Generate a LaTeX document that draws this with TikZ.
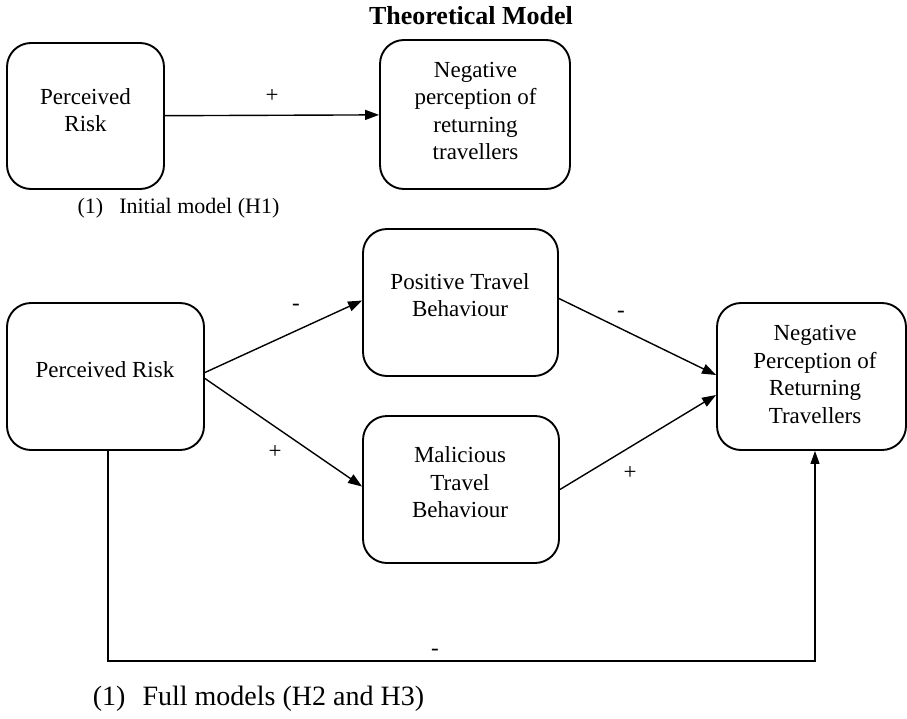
\documentclass[tikz,border=0pt]{standalone}
\usepackage{fontspec}
\setmainfont{Liberation Serif}
\usetikzlibrary{arrows.meta}
\begin{document}
\begin{tikzpicture}[x=1pt,y=-1pt,
  box/.style={draw, line width=1.9pt, rounded corners=24pt, inner sep=0pt},
  boxtext/.style={font=\fontsize{23}{27.5}\selectfont, align=center, inner sep=0pt},
  conn/.style={line width=1.4pt, -{Triangle[length=14pt,width=10pt]}},
  thinconn/.style={line width=1.1pt, -{Triangle[length=13pt,width=9pt]}},
  sign/.style={font=\fontsize{23}{25}\selectfont, inner sep=0pt},
  caption/.style={inner sep=0pt}]
\useasboundingbox (0,0) rectangle (907,718);

% title
\node[caption, font=\fontsize{26}{30}\selectfont\bfseries] (title) at (471,16) {Theoretical Model};

% initial model
\node[box, minimum width=157pt, minimum height=146pt] (A) at (85.5,116) {};
\node[boxtext] (At) at (85.5,110) {Perceived\\Risk};
\node[box, minimum width=190pt, minimum height=149pt] (B) at (475,114.5) {};
\node[boxtext] (Bt) at (475.5,111) {Negative\\perception of\\returning\\travellers};
\draw[conn] (A) -- (B);
\node[sign] (s1) at (272,96) {+};
\node[caption, font=\fontsize{22}{26}\selectfont] (cap1) at (178.5,208) {(1)\hspace{16pt}Initial model (H1)};

% full model
\node[box, minimum width=197pt, minimum height=147pt] (C) at (105.5,376.5) {};
\node[boxtext] (Ct) at (105,369.5) {Perceived Risk};
\node[box, minimum width=195pt, minimum height=147pt] (D) at (460.5,302.5) {};
\node[boxtext] (Dt) at (460,295) {Positive Travel\\Behaviour};
\node[box, minimum width=196pt, minimum height=147pt] (E) at (461,489.5) {};
\node[boxtext] (Et) at (460,482.5) {Malicious\\Travel\\Behaviour};
\node[box, minimum width=189pt, minimum height=147pt] (F) at (811.5,376.5) {};
\node[boxtext] (Ft) at (815,374.5) {Negative\\Perception of\\Returning\\Travellers};

\draw[conn] ([yshift=4pt]C.east) -- ([yshift=2pt]D.west);
\draw[conn] ([yshift=-2pt]C.east) -- ([yshift=3pt]E.west);
\draw[conn] ([yshift=4pt]D.east) -- ([yshift=1.5pt]F.west);
\draw[conn] (E.east) -- ([yshift=-18.5pt]F.west);
\coordinate (low) at (0,661);
\draw[thinconn] ([xshift=2.5pt]C.south) -- ([xshift=2.5pt]C.south |- low) -- ([xshift=3.5pt]F.south |- low) -- ([xshift=3.5pt]F.south);

\node[sign] (s2) at (296,307) {-};
\node[sign] (s3) at (275,452) {+};
\node[sign] (s4) at (621,314) {-};
\node[sign] (s5) at (630,473) {+};
\node[sign] (s6) at (435,652) {-};

\node[caption, font=\fontsize{28}{32}\selectfont] (cap2) at (258.5,698.5) {(1)\hspace{17pt}Full models (H2 and H3)};
\end{tikzpicture}
\end{document}
